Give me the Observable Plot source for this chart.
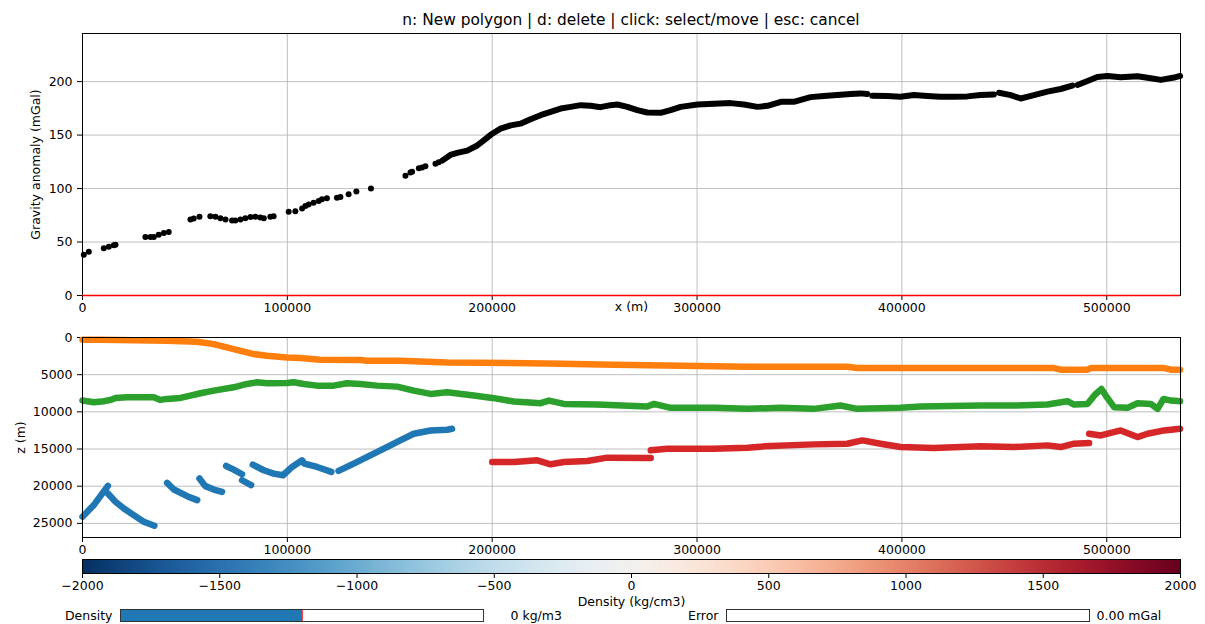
<!DOCTYPE html>
<html>
<head>
<meta charset="utf-8">
<script src="https://cdn.jsdelivr.net/npm/d3@7"></script>
<script src="https://cdn.jsdelivr.net/npm/@observablehq/plot@0.6"></script>
<style>
  body { margin: 0; background: #fff; }
  #fig { position: relative; width: 1205px; height: 624px; background: #fff; font-family: "DejaVu Sans", sans-serif; overflow: hidden; }
  #title { position: absolute; left: 0; top: 11px; width: 1262px; text-align: center; font-size: 15.4px; line-height: 18px; color: #000; }
</style>
</head>
<body>
<div id="fig"><div id="title">n: New polygon | d: delete | click: select/move | esc: cancel</div></div>
<script>
// ---------- Data ----------
const xTicks = [0, 100000, 200000, 300000, 400000, 500000];
const gTicks = [0, 50, 100, 150, 200];
const zTicks = [0, 5000, 10000, 15000, 20000, 25000];
const cbTicks = [-2000, -1500, -1000, -500, 0, 500, 1000, 1500, 2000];

// observed gravity: sparse stations
const obsSparseX = [650, 3090, 10400, 12850, 15280, 16100, 30700, 33200, 34800, 37200, 39700, 42100,
  52700, 54300, 57100, 62400, 64900, 67300, 69800, 73000, 74600, 77100, 79500, 82000, 84400, 86800, 88500,
  91700, 93300, 100650, 103900, 107200, 108800, 110400, 112800, 115300, 116900, 119300, 124200, 125900,
  129900, 133700, 140800, 157650, 160100, 160900, 164200, 165800, 167400, 172300, 173900];
const obsSparseG = [38, 41, 44.3, 45.6, 46.9, 47.5, 54.7, 54.7, 54.7, 56.9, 58.5, 59.4,
  71.1, 72.0, 73.6, 74.2, 73.6, 72.3, 71.1, 70.1, 70.1, 71.1, 72.3, 73.3, 73.6, 73.0, 72.3,
  73.6, 74.2, 78.3, 78.9, 81.4, 83.6, 85.2, 86.8, 88.4, 89.9, 90.9, 91.5, 92.1,
  94.7, 97.2, 100, 112, 115, 115.7, 118.9, 119.8, 120.8, 123.3, 124.5];

// observed gravity: dense stretches (segment ids separate data gaps)
const obsDenseX = [175600, 179600, 182900, 187800, 192700, 195900, 200000, 204100, 209000, 213800, 218700,
  223600, 228500, 233400, 238300, 243200, 248000, 252900, 257800, 261100, 266000, 270800, 275700, 282200,
  287100, 292000, 300200, 308300, 316400, 322900, 329500, 334400, 340900, 347200, 355400, 361900, 368400,
  374900, 379800, 383100,
  385500, 392800, 399300, 405900, 412400, 418900, 425400, 431900, 438400, 444900,
  447400, 453100, 458000, 464500, 471000, 477500, 483200,
  485700, 490600, 495400, 500300, 506800, 515000, 521500, 526400, 532900, 535800];
const obsDenseG = [126.1, 131.4, 133.3, 135.5, 140.3, 145, 151.3, 156, 159.1, 160.7, 164.8,
  168.6, 171.7, 174.8, 176.4, 178, 177.4, 176.1, 178, 178.6, 176.4, 173.3, 171.1, 170.8,
  173.3, 176.4, 178.6, 179.2, 179.9, 178.6, 176.4, 177.4, 181.1, 181.1, 185.5, 186.5, 187.4,
  188.4, 189, 188.4,
  186.8, 186.5, 185.8, 187.4, 186.5, 185.8, 185.8, 186.2, 187.4, 188,
  189.6, 187.4, 184.2, 187.4, 190.6, 193.1, 196.2,
  196.9, 200.6, 204.4, 205.3, 204.1, 205, 203.1, 201.6, 203.8, 205.3];
const obsDenseSeg = [...Array(40).fill(0), ...Array(10).fill(1), ...Array(7).fill(2), ...Array(10).fill(3)];

// calculated gravity (all zero)
const calcG = [0];

// interfaces (depth in m)
const orangeX = [0, 8800, 25000, 41300, 55900, 64100, 73800, 83600, 90000, 99800, 106300, 116100, 135600,
  138900, 155100, 178000, 226900, 259400, 292000, 324600, 373300, 378200, 422100, 474300, 477500, 490600,
  492200, 528000, 531300, 535800];
const orangeZ = [312, 312, 357, 446, 580, 893, 1562, 2232, 2455, 2678, 2768, 2991, 3036,
  3125, 3125, 3348, 3482, 3660, 3794, 3930, 3930, 4107, 4107, 4107, 4330, 4330,
  4107, 4107, 4330, 4330];

const greenX = [0, 5500, 10400, 13700, 16100, 21800, 28300, 34800, 38000, 41300, 47800, 52700, 57600, 64100,
  73800, 80300, 85200, 90000, 99800, 103100, 107970, 114500, 122600, 129100, 135600, 143700, 153600,
  161700, 169900, 178000, 191000, 200000, 210600, 223600, 227700, 235000, 251300, 275700, 279000, 287100,
  308300, 324600, 340700, 357000, 370000, 378200, 399300, 409100, 438400, 454700, 471000, 480800, 484000,
  490600, 494600, 497400, 499500, 503600, 510100, 515000, 521500, 524800, 527700, 531300, 535800];
const greenZ = [8482, 8705, 8571, 8393, 8125, 8035, 8035, 8035, 8393, 8259, 8125, 7812, 7500, 7143,
  6696, 6250, 6027, 6160, 6116, 6027, 6250, 6473, 6473, 6160, 6250, 6473, 6607,
  7143, 7589, 7366, 7812, 8125, 8616, 8839, 8482, 8929, 9018, 9286, 8929, 9464,
  9464, 9598, 9464, 9598, 9152, 9598, 9464, 9286, 9152, 9152, 9018, 8571, 9018,
  8929, 7589, 6920, 7812, 9375, 9464, 8839, 8929, 9598, 8259, 8482, 8571];

const blueX = [0, 5500, 12400,
  12400, 16100, 20200, 25000, 29900, 35100,
  41300, 44600, 51100, 56000,
  57100, 60000, 64100, 68100,
  70100, 73800, 77900,
  77900, 82300,
  83100, 88500, 93300, 97900, 102300, 107200, 108300, 114500, 121500,
  125000, 132400, 140500, 148600, 155100, 161700, 169900, 178000, 180400];
const blueZ = [24107, 22545, 19955,
  20982, 22098, 22991, 23884, 24777, 25312,
  19554, 20446, 21339, 21875,
  18973, 19991, 20446, 20759,
  17277, 17768, 18393,
  19196, 19866,
  17098, 17857, 18304, 18527, 17411, 16518, 16964, 17411, 18080,
  17946, 16964, 15848, 14732, 13839, 12946, 12500, 12410, 12277];
const blueSeg = [0, 0, 0, 1, 1, 1, 1, 1, 1, 2, 2, 2, 2, 3, 3, 3, 3, 4, 4, 4, 5, 5,
  6, 6, 6, 6, 6, 6, 6, 6, 6, 7, 7, 7, 7, 7, 7, 7, 7, 7];

const redX = [200000, 210600, 222000, 228500, 235000, 246400, 256200, 277400,
  277400, 285500, 308300, 324600, 332700, 357000, 373300, 380700, 389600, 399300, 415600, 438400, 454700,
  471000, 477500, 484000, 491400,
  491400, 497100, 506800, 515000, 519900, 528000, 535800];
const redZ = [16741, 16741, 16518, 17054, 16741, 16607, 16160, 16205,
  15179, 14955, 14955, 14821, 14643, 14375, 14286, 13839, 14286, 14732, 14866, 14643, 14732,
  14509, 14732, 14286, 14196,
  12946, 13170, 12500, 13393, 12946, 12500, 12277];
const redSeg = [...Array(8).fill(0), ...Array(17).fill(1), ...Array(7).fill(2)];

// sliders
const densityRange = [-2000, 2000];
const densityValue = 0;
const densityText = "0 kg/m3";
const errorRange = [0, 5];
const errorValue = 0;
const errorText = "0.00 mGal";

// ---------- Helpers ----------
const fig = document.getElementById("fig");
function place(el, top) {
  el.style.position = "absolute";
  el.style.left = "0px";
  el.style.top = top + "px";
  fig.appendChild(el);
}
const baseStyle = {background: "transparent", fontFamily: "DejaVu Sans, sans-serif", fontSize: "12.5px", color: "black", overflow: "visible"};
const fmt = d => String(d);
const minusFmt = d => d < 0 ? "\u2212" + Math.abs(d) : String(d);
const gridStyle = {stroke: "#b0b0b0", strokeWidth: 0.8};
const xDomain = [0, 536000];

const sparseRows = obsSparseX.map((x, i) => ({x, g: obsSparseG[i]}));
const denseRows = obsDenseX.map((x, i) => ({x, g: obsDenseG[i], seg: obsDenseSeg[i]}));
const lines = [
  ...orangeX.map((x, i) => ({x, z: orangeZ[i], k: "o"})),
  ...greenX.map((x, i) => ({x, z: greenZ[i], k: "g"})),
  ...blueX.map((x, i) => ({x, z: blueZ[i], k: "b" + blueSeg[i]})),
  ...redX.map((x, i) => ({x, z: redZ[i], k: "r" + redSeg[i]}))
];
const colorOf = k => k[0] === "o" ? "#ff7f0e" : k[0] === "g" ? "#2ca02c" : k[0] === "b" ? "#1f77b4" : "#d62728";

// ---------- Top: gravity ----------
const topPlot = Plot.plot({
  width: 1205, height: 326, marginLeft: 82, marginRight: 25, marginTop: 33, marginBottom: 31,
  style: baseStyle,
  x: {domain: xDomain, ticks: xTicks, tickFormat: fmt, tickSize: 5, tickPadding: 3, label: null},
  y: {domain: [0, 245], ticks: gTicks, tickFormat: fmt, tickSize: 5, tickPadding: 5, label: null},
  marks: [
    Plot.ruleX(xTicks, gridStyle),
    Plot.ruleY(gTicks, gridStyle),
    Plot.line(denseRows, {x: "x", y: "g", z: "seg", stroke: "black", strokeWidth: 6, strokeLinecap: "round", strokeLinejoin: "round"}),
    Plot.dot(sparseRows, {x: "x", y: "g", r: 3, fill: "black"}),
    Plot.frame({stroke: "black"}),
    Plot.ruleY(calcG, {stroke: "red", strokeWidth: 1.6}),
    Plot.text(["Gravity anomaly (mGal)"], {text: d => d, frameAnchor: "left", textAnchor: "middle", dx: -47, rotate: -90}),
    Plot.text(["x (m)"], {text: d => d, frameAnchor: "bottom", textAnchor: "middle", dy: 15})
  ]
});
place(topPlot, 0);

// ---------- Bottom: model interfaces ----------
const bottomPlot = Plot.plot({
  width: 1205, height: 233, marginLeft: 82, marginRight: 25, marginTop: 11, marginBottom: 22,
  style: baseStyle,
  x: {domain: xDomain, ticks: xTicks, tickFormat: fmt, tickSize: 5, tickPadding: 3, label: null},
  y: {domain: [0, 26900], reverse: true, ticks: zTicks, tickFormat: fmt, tickSize: 5, tickPadding: 5, label: null},
  marks: [
    Plot.ruleX(xTicks, gridStyle),
    Plot.ruleY(zTicks, gridStyle),
    Plot.line(lines, {x: "x", y: "z", z: "k", stroke: d => colorOf(d.k), strokeWidth: 6.5, strokeLinecap: "round", strokeLinejoin: "round"}),
    Plot.frame({stroke: "black"}),
    Plot.text(["z (m)"], {text: d => d, frameAnchor: "left", textAnchor: "middle", dx: -62, rotate: -90})
  ]
});
place(bottomPlot, 326);

// ---------- Colorbar ----------
const stepW = 8;
const steps = d3.range(cbTicks[0], cbTicks[cbTicks.length - 1], stepW);
const cbar = Plot.plot({
  width: 1205, height: 60, marginLeft: 82, marginRight: 25, marginTop: 4, marginBottom: 42,
  style: baseStyle,
  x: {domain: [cbTicks[0], cbTicks[cbTicks.length - 1]], ticks: cbTicks, tickFormat: minusFmt, tickSize: 5, tickPadding: 3, label: null},
  color: {type: "linear", scheme: "RdBu", reverse: true, domain: [cbTicks[0], cbTicks[cbTicks.length - 1]]},
  marks: [
    Plot.barX(steps, {x1: d => d, x2: d => Math.min(d + stepW * 1.6, 2000), fill: d => d + stepW / 2}),
    Plot.frame({stroke: "black"}),
    Plot.text(["Density (kg/cm3)"], {text: d => d, frameAnchor: "bottom", textAnchor: "middle", dy: 32})
  ]
});
place(cbar, 555);

// ---------- Sliders ----------
const densSlider = Plot.plot({
  width: 1205, height: 21, marginLeft: 120, marginRight: 722, marginTop: 6, marginBottom: 3,
  style: baseStyle,
  x: {domain: densityRange, axis: null},
  marks: [
    Plot.barX([{lo: densityRange[0], hi: densityValue}], {x1: "lo", x2: "hi", fill: "#1f77b4"}),
    Plot.ruleX([densityValue], {stroke: "red", strokeWidth: 1.5}),
    Plot.frame({stroke: "#333"}),
    Plot.text(["Density"], {text: d => d, frameAnchor: "left", dx: -8, textAnchor: "end"}),
    Plot.text([densityText], {text: d => d, frameAnchor: "right", dx: 27, textAnchor: "start"})
  ]
});
place(densSlider, 603);

const errSlider = Plot.plot({
  width: 1205, height: 21, marginLeft: 726, marginRight: 116, marginTop: 6, marginBottom: 3,
  style: baseStyle,
  x: {domain: errorRange, axis: null},
  marks: [
    Plot.barX([{lo: errorRange[0], hi: errorValue}], {x1: "lo", x2: "hi", fill: "#1f77b4"}),
    Plot.frame({stroke: "#333"}),
    Plot.text(["Error"], {text: d => d, frameAnchor: "left", dx: -8, textAnchor: "end"}),
    Plot.text([errorText], {text: d => d, frameAnchor: "right", dx: 7, textAnchor: "start"})
  ]
});
place(errSlider, 603);
</script>
</body>
</html>
